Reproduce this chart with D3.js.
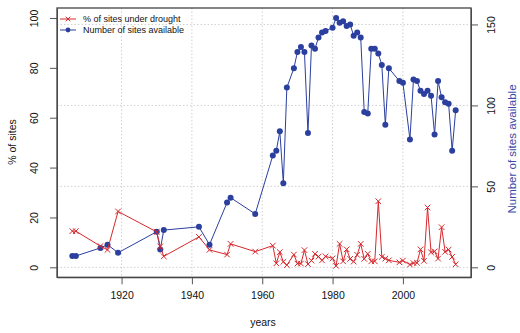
<!DOCTYPE html>
<html>
<head>
<meta charset="utf-8">
<script src="https://cdn.jsdelivr.net/npm/d3@7"></script>
<style>
  body { margin: 0; background: #fff; }
  svg { display: block; font-family: "Liberation Sans", Arial, sans-serif; }
</style>
</head>
<body>
<svg></svg>
<script>
// données
const years = [1906, 1907, 1914, 1916, 1919, 1930, 1931, 1932, 1942, 1945, 1950, 1951, 1958,
  1963, 1964, 1965, 1966, 1967, 1969, 1970, 1971, 1972, 1973, 1974, 1975, 1976, 1977, 1978,
  1980, 1981, 1982, 1983, 1984, 1985, 1986, 1987, 1988, 1989, 1990, 1991, 1992, 1993, 1994,
  1995, 1996, 1999, 2000, 2002, 2003, 2004, 2005, 2006, 2007, 2008, 2009, 2010, 2011, 2012,
  2013, 2014, 2015];
const pctDrought = [14.5, 14.5, 8.5, 7, 22.4, 14.2, 8.4, 4.4, 12.2, 7, 5.1, 9.4, 6.3,
  8.7, 1.6, 6.1, 2.2, 0.9, 5.1, 1.5, 1.5, 6.9, 1.3, 2.7, 5.4, 4.3, 2.8, 4.4,
  3.6, 0.6, 9.4, 2.4, 7.2, 3.4, 2.3, 5, 9.4, 3.4, 5.4, 2.4, 2.4, 26.5, 4.2,
  3.5, 2.8, 2, 2.7, 1.1, 1.7, 1.8, 7.2, 2.6, 24, 6, 6.4, 3.5, 16.1, 6.2,
  7.1, 4.2, 1.2];
const nSites = [7, 7, 12, 14, 9, 22, 11, 23, 25, 14, 40, 43, 33,
  69, 72, 84, 52, 111, 123, 133, 136, 133, 83, 137, 135, 142, 145, 146,
  148, 154, 151, 152, 149, 150, 143, 145, 142, 96, 95, 135, 135, 132, 125,
  88, 123, 115, 114, 79, 116, 115, 109, 107, 109, 106, 82, 115, 105, 102,
  101, 72, 97];
const xTicks = [1920, 1940, 1960, 1980, 2000];
const leftTicks = [0, 20, 40, 60, 80, 100];
const rightTicks = [0, 50, 100, 150];
const legendLabels = ["% of sites under drought", "Number of sites available"];

const width = 520, height = 333;
const red = "#d6282c", blue = "#2b3f9f";
const box = {left: 57, right: 471, top: 8, bottom: 277.3};

const svg = d3.select("svg").attr("width", width).attr("height", height);

// échelles, étendues de 4% comme dans R
const pad = (a, b) => [a - (b - a) * 0.04, b + (b - a) * 0.04];
const x = d3.scaleLinear().domain(pad(d3.min(years), d3.max(years))).range([box.left, box.right]);
const yL = d3.scaleLinear().domain(pad(0, 100)).range([box.bottom, box.top]);
const yR = d3.scaleLinear().domain(pad(0, d3.max(nSites))).range([box.bottom, box.top]);

// grille pointillée
const grid = svg.append("g").attr("stroke", "#d0d0d0").attr("stroke-dasharray", "1.5,2").attr("stroke-width", 1);
grid.selectAll(".vx").data(xTicks).join("line")
  .attr("x1", d => x(d)).attr("x2", d => x(d))
  .attr("y1", box.top).attr("y2", box.bottom);
grid.selectAll(".hy").data(rightTicks).join("line")
  .attr("y1", d => yR(d)).attr("y2", d => yR(d))
  .attr("x1", box.left).attr("x2", box.right);

// axes
function styleAxis(g) {
  g.selectAll("path").attr("stroke", "#555");
  g.selectAll("line").attr("stroke", "#555");
  g.selectAll("text").attr("fill", "#111").attr("font-size", "10.5px")
    .attr("font-family", "'Liberation Sans', Arial, sans-serif");
}
svg.append("g").attr("transform", `translate(0,${box.bottom})`)
  .call(d3.axisBottom(x).tickValues(xTicks).tickFormat(d3.format("d")).tickSize(7).tickSizeOuter(0).tickPadding(7))
  .call(styleAxis);

const gl = svg.append("g").attr("transform", `translate(${box.left},0)`)
  .call(d3.axisLeft(yL).tickValues(leftTicks).tickSize(7).tickSizeOuter(0))
  .call(styleAxis);
gl.selectAll(".tick text")
  .attr("x", null).attr("dy", null)
  .attr("text-anchor", "middle")
  .attr("transform", "translate(-19,0) rotate(-90)");

const gr = svg.append("g").attr("transform", `translate(${box.right},0)`)
  .call(d3.axisRight(yR).tickValues(rightTicks).tickSize(7).tickSizeOuter(0))
  .call(styleAxis);
gr.selectAll(".tick text")
  .attr("x", null).attr("dy", null)
  .attr("text-anchor", "middle")
  .attr("transform", "translate(24,0) rotate(-90)");

// cadre
svg.append("rect")
  .attr("x", box.left).attr("y", box.top)
  .attr("width", box.right - box.left).attr("height", box.bottom - box.top)
  .attr("fill", "none").attr("stroke", "#444").attr("stroke-width", 1.3);

// série bleue : nombre de sites
svg.append("path").datum(years)
  .attr("fill", "none").attr("stroke", blue).attr("stroke-width", 1)
  .attr("d", d3.line().x(d => x(d)).y((d, i) => yR(nSites[i])));
svg.append("g").selectAll("circle").data(years).join("circle")
  .attr("cx", d => x(d)).attr("cy", (d, i) => yR(nSites[i]))
  .attr("r", 3).attr("fill", blue);

// série rouge : % sous sécheresse
svg.append("path").datum(years)
  .attr("fill", "none").attr("stroke", red).attr("stroke-width", 1)
  .attr("d", d3.line().x(d => x(d)).y((d, i) => yL(pctDrought[i])));
const cross = (sel, s) => sel.attr("d", `M${-s},${-s}L${s},${s}M${-s},${s}L${s},${-s}`)
  .attr("stroke", red).attr("stroke-width", 1).attr("fill", "none");
svg.append("g").selectAll("path").data(years).join("path")
  .attr("transform", (d, i) => `translate(${x(d)},${yL(pctDrought[i])})`)
  .call(cross, 2.8);

// légende
const leg = svg.append("g");
legendLabels.forEach((lab, i) => {
  const yy = 19 + i * 11;
  const col = i === 0 ? red : blue;
  leg.append("line").attr("x1", 60).attr("x2", 76).attr("y1", yy).attr("y2", yy)
    .attr("stroke", col).attr("stroke-width", 1);
  if (i === 0) leg.append("path").attr("transform", `translate(68,${yy})`).call(cross, 2.3);
  else leg.append("circle").attr("cx", 68).attr("cy", yy).attr("r", 2.4).attr("fill", blue);
  leg.append("text").attr("x", 83).attr("y", yy).attr("dy", "0.35em")
    .attr("font-size", "9px").attr("fill", "#111").text(lab);
});

// titres des axes
svg.append("text").attr("x", 263).attr("y", 326).attr("text-anchor", "middle")
  .attr("font-size", "10.5px").attr("fill", "#111").text("years");
svg.append("text").attr("transform", "translate(16,142) rotate(-90)")
  .attr("text-anchor", "middle").attr("font-size", "10.5px").attr("fill", "#111").text("% of sites");
svg.append("text").attr("transform", "translate(516,149) rotate(-90)")
  .attr("text-anchor", "middle").attr("font-size", "11.5px").attr("fill", "#3a4aa8").text("Number of sites available");
</script>
</body>
</html>
